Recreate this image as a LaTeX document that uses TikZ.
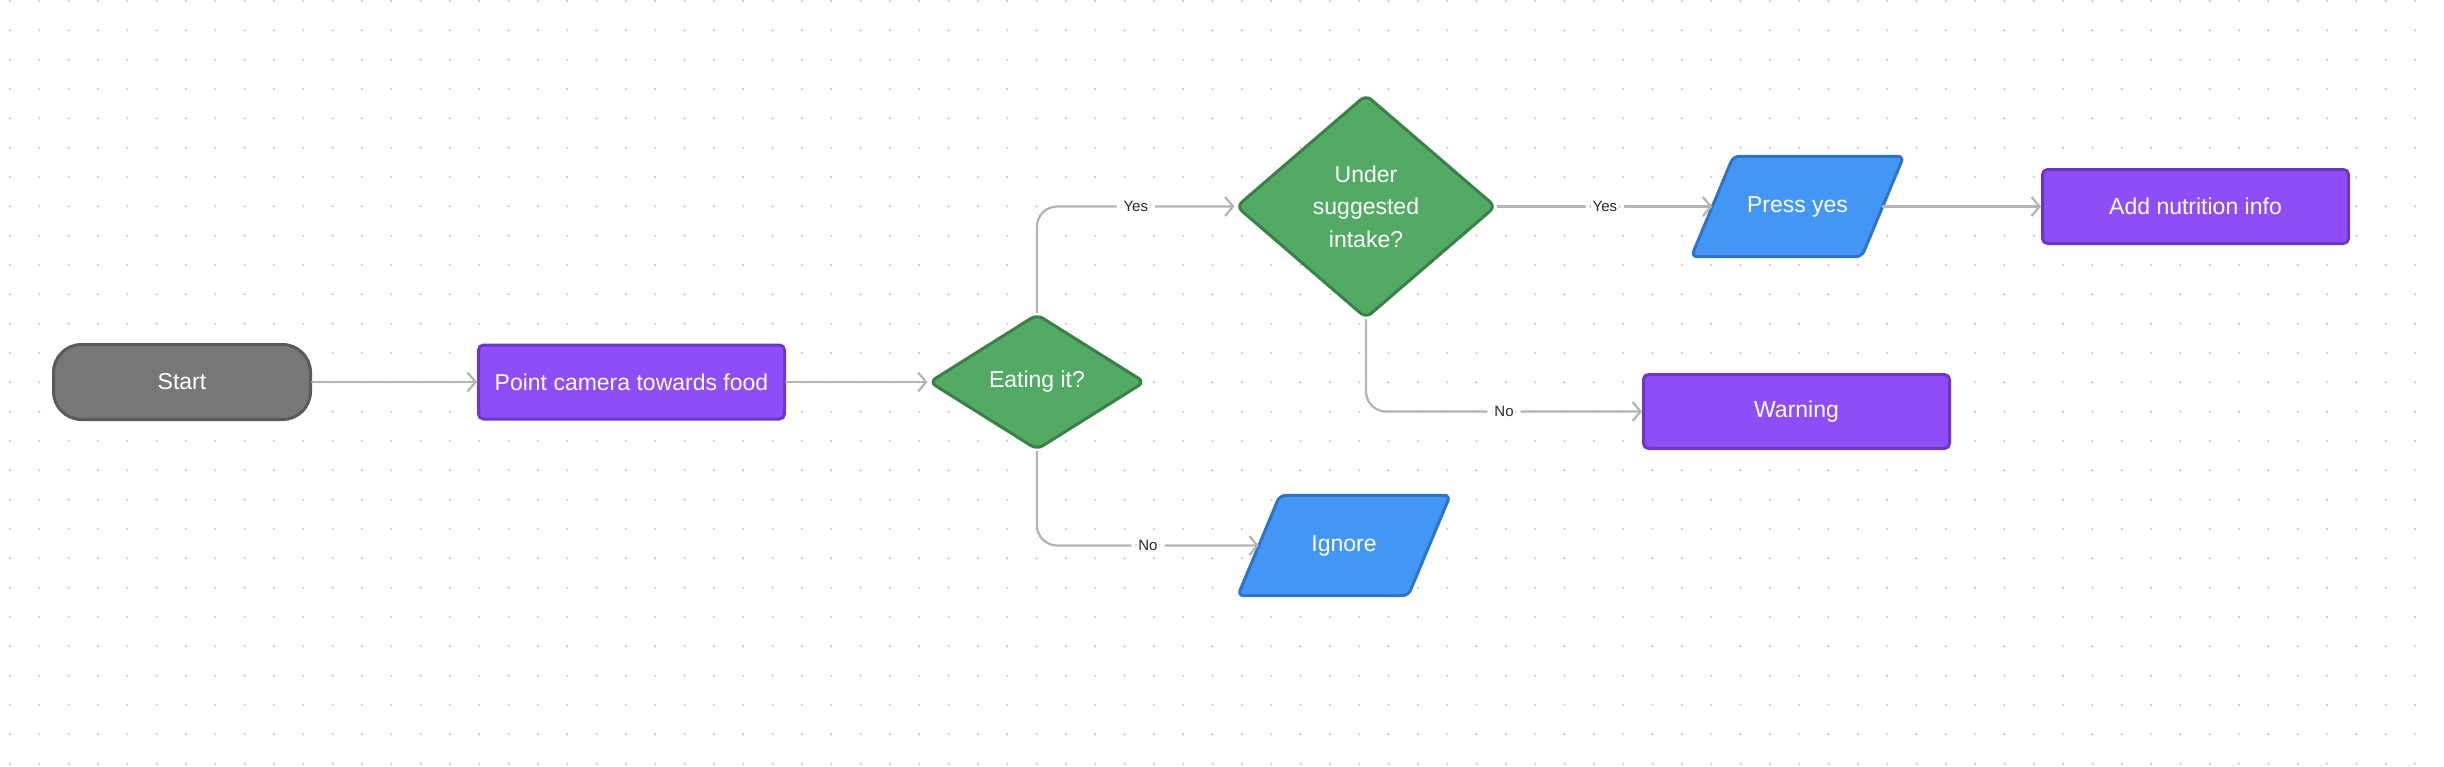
\documentclass[tikz,border=0pt]{standalone}
\usepackage{fontspec}
\setmainfont{Liberation Sans}
\usetikzlibrary{shapes.geometric,arrows.meta}
\definecolor{dotc}{HTML}{CFCFCF}
\definecolor{startfill}{HTML}{777777}
\definecolor{startdraw}{HTML}{5A5A5A}
\definecolor{purfill}{HTML}{8E4DF6}
\definecolor{purdraw}{HTML}{6D36C9}
\definecolor{grnfill}{HTML}{52AA65}
\definecolor{grndraw}{HTML}{3A8048}
\definecolor{blufill}{HTML}{4496F5}
\definecolor{bludraw}{HTML}{2F74C8}
\definecolor{arrowc}{HTML}{B4B4B4}
\definecolor{lblc}{HTML}{2A2A2A}
\pgfdeclarelayer{back}
\pgfdeclarelayer{bg}
\pgfsetlayers{back,bg,main}
\tikzset{
  boxtext/.style={text=white, font=\fontsize{23}{32.5}\selectfont, inner sep=0pt},
  termbox/.style={boxtext, draw=startdraw, fill=startfill, line width=3pt, rounded corners=28pt, minimum width=257pt, minimum height=75pt},
  procbox/.style={boxtext, draw=purdraw, fill=purfill, line width=3pt, rounded corners=5pt, minimum width=306pt, minimum height=74pt},
  decbox/.style={boxtext, diamond, draw=grndraw, fill=grnfill, line width=3pt, rounded corners=7pt, align=center},
  iobox/.style={boxtext, minimum width=170pt, minimum height=100pt},
  iofill/.style={draw=bludraw, fill=blufill, line width=3pt, rounded corners=6pt, line join=round},
  conn/.style={draw=arrowc, line width=2.2pt, line cap=round, rounded corners=20pt, -{Straight Barb[length=8pt,width=19pt,line width=2.2pt]}},
  lbl/.style={fill=white, text=lblc, font=\fontsize{15}{18}\selectfont, inner xsep=7pt, inner ysep=2pt}
}
\begin{document}
\begin{tikzpicture}[x=1pt,y=-1pt]
\useasboundingbox (0,0) rectangle (2444,766);
\begin{pgfonlayer}{back}
\fill[white] (0,0) rectangle (2444,766);
\foreach \i in {0,...,82} {
  \foreach \j in {0,...,26} {
    \fill[dotc] ({10+\i*29.33},{1+\j*29.33}) circle (1.3pt);
  }
}
\end{pgfonlayer}
% nodes
\node[termbox] (start) at (182,382) {Start};
\node[procbox] (point) at (631.5,382) {Point camera towards food};
\node[decbox, aspect=1.6, minimum width=216pt, minimum height=136pt] (eat) at (1037,382) {Eating it?};
\node[decbox, aspect=1.16, minimum width=260pt, minimum height=224pt] (und) at (1366,206.5) {Under\\suggested\\intake?};
\node[iobox] (press) at (1797.5,206.5) {Press yes};
\node[iobox] (ign) at (1344,545.5) {Ignore};
\node[procbox] (add) at (2195.5,206.5) {Add nutrition info};
\node[procbox] (warn) at (1796.5,411.5) {Warning};
% parallelogram outlines
\begin{pgfonlayer}{bg}
\draw[iofill] ([xshift=-21pt]press.south west) -- ([xshift=21pt]press.north west) -- ([xshift=21pt]press.north east) -- ([xshift=-21pt]press.south east) -- cycle;
\draw[iofill] ([xshift=-21pt]ign.south west) -- ([xshift=21pt]ign.north west) -- ([xshift=21pt]ign.north east) -- ([xshift=-21pt]ign.south east) -- cycle;
\end{pgfonlayer}
% connectors
\draw[conn] (start.east) -- (point.west);
\draw[conn] (point.east) -- (eat.west);
\draw[conn] (eat.north) |- node[lbl, pos=0.75] {Yes} (und.west);
\draw[conn] (eat.south) |- node[lbl, pos=0.75] {No} (ign.west);
\draw[conn] (und.east) -- node[lbl] {Yes} (press.west);
\draw[conn] (und.south) |- node[lbl, pos=0.75] {No} (warn.west);
\draw[conn] (press.east) -- (add.west);
\end{tikzpicture}
\end{document}
